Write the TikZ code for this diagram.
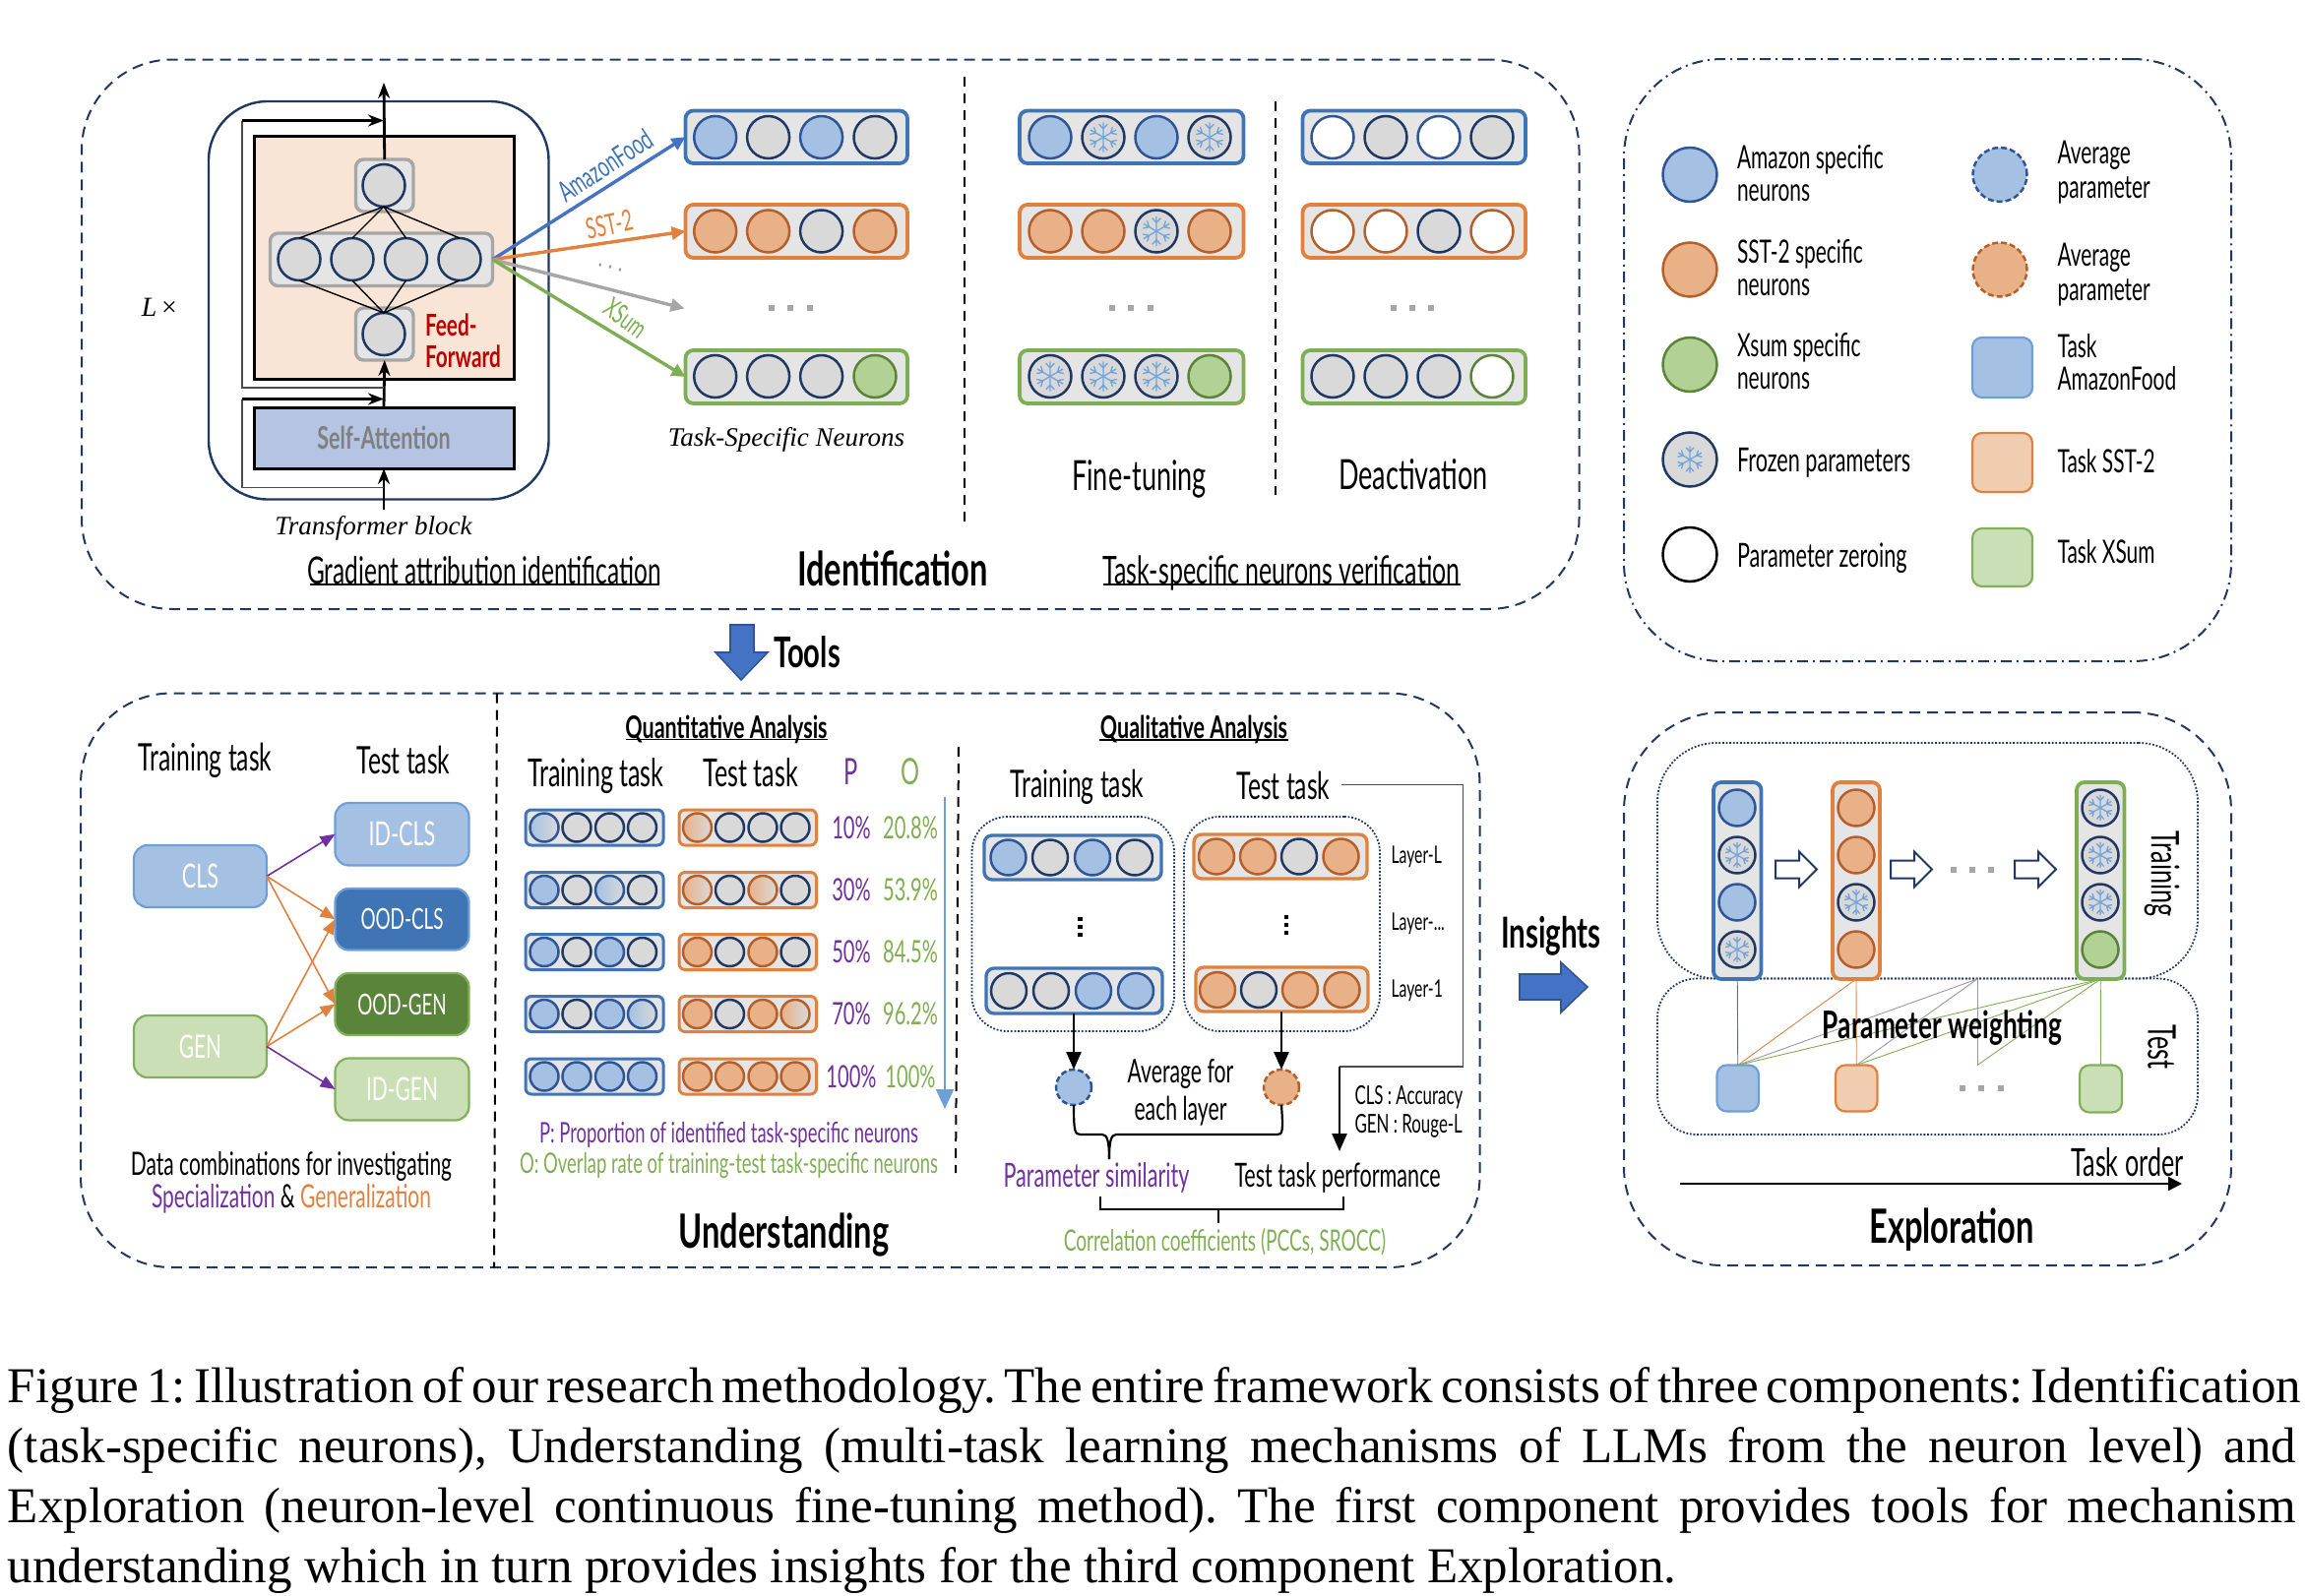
\documentclass[tikz,border=0pt]{standalone}
\usepackage{fontspec}
\usetikzlibrary{arrows.meta,calc,shapes.misc}
\setmainfont{Liberation Serif}
\newfontfamily\ag[FakeStretch=0.64,Scale=1.09,BoldFeatures={FakeStretch=0.68}]{Lato}
\newcommand\fs[1]{\fontsize{#1pt}{#1pt}\selectfont}
\definecolor{navy}{HTML}{1F3864}
\definecolor{fb}{HTML}{A4C1E3}\definecolor{eb}{HTML}{2F5597}
\definecolor{fo}{HTML}{E8B188}\definecolor{eo}{HTML}{B5602A}
\definecolor{fg}{HTML}{B2D195}\definecolor{eg}{HTML}{5B843B}
\definecolor{fgy}{HTML}{D9D9D9}
\definecolor{bb}{HTML}{3F74B5}\definecolor{bo}{HTML}{E0813F}\definecolor{bg}{HTML}{7DAE54}
\definecolor{tb}{HTML}{A4C1E3}\definecolor{tbe}{HTML}{6F9FD8}
\definecolor{to}{HTML}{F0CCB0}\definecolor{toe}{HTML}{E0813F}
\definecolor{tg}{HTML}{CBDFB6}\definecolor{tge}{HTML}{82B05A}
\definecolor{pur}{HTML}{7030A0}\definecolor{grn}{HTML}{7FAE53}\definecolor{org}{HTML}{E0813F}
\definecolor{snowc}{HTML}{6FA5DC}
\definecolor{ffill}{HTML}{F8E5D6}\definecolor{safill}{HTML}{B4C4E2}\definecolor{arblue}{HTML}{4472C4}
\newcounter{nc}\newcounter{tc}
\newcommand\nrn[4]{\def\nrad{#4}\stepcounter{nc}\node[#1,minimum size={#4*1pt}] (nr\arabic{nc}) at (#2,#3) {};}
\newcommand\nrow[3]{\foreach \xx/\ss in {#3}{\nrn{\ss}{\xx}{#2}{#1}}}
\newcommand\bx[6]{\node[#2,minimum width={(#5-#3)*0.5pt},minimum height={(#6-#4)*0.5pt}] (#1) at ({(#3+#5)/2},{(#4+#6)/2}) {};}
\newcommand\bxt[7]{\node[#2,minimum width={(#5-#3)*0.5pt},minimum height={(#6-#4)*0.5pt}] (#1) at ({(#3+#5)/2},{(#4+#6)/2}) {#7};}
\newcommand\tx[5][]{\stepcounter{tc}\node[lbl,font={\ag\fs{#2}},#1] (t\arabic{tc}) at (#3,#4) {#5};}
\newcommand\snowpic{\foreach \a in {30,90,...,330}{\draw[snowline,shift={(path picture bounding box.center)}] (0,0)--(\a:0.7*\nrad) (\a:0.4*\nrad)--++(\a+42:0.3*\nrad) (\a:0.4*\nrad)--++(\a-42:0.3*\nrad);}}
\newcommand\sqdots[2]{\foreach \qq in {#1}{\stepcounter{tc}\node[dotsq] (t\arabic{tc}) at (\qq,#2) {};}}
\newcommand\barrow[2]{\draw[navy,line width=1pt,fill=white,shift={(#1,#2)}] (0,-9)--(24,-9)--(24,-18)--(42,0)--(24,18)--(24,9)--(0,9)--cycle;}
\tikzset{
 lbl/.style={inner sep=0pt,outer sep=0pt,align=center},
 panel/.style={draw=navy,line width=1pt,dash pattern=on 5.5pt off 3.5pt,rounded corners=46pt},
 legpanel/.style={draw=navy,line width=1pt,dash pattern=on 5.5pt off 2.5pt on 1pt off 2.5pt,rounded corners=50pt},
 vdash/.style={draw=black,line width=1pt,dash pattern=on 5pt off 3.5pt},
 dotbox/.style={draw=navy,line width=.9pt,dash pattern=on .9pt off .9pt,inner sep=0,outer sep=0},
 nbase/.style={circle,inner sep=0,outer sep=0,line width=1.25pt},
 nb/.style={nbase,fill=fb,draw=eb},
 no/.style={nbase,fill=fo,draw=eo},
 ng/.style={nbase,fill=fg,draw=eg},
 ny/.style={nbase,fill=fgy,draw=navy},
 nw/.style={nbase,fill=white,draw=black},
 nwb/.style={nbase,fill=white,draw=eb},
 nwo/.style={nbase,fill=white,draw=eo},
 nwg/.style={nbase,fill=white,draw=eg},
 nf/.style={ny,path picture={\snowpic}},
 nbg/.style={nbase,left color=fb,right color=fgy,draw=eb},
 nog/.style={nbase,left color=fo,right color=fgy,draw=eo},
 nbd/.style={nb,dash pattern=on 3pt off 1.5pt},
 nod/.style={no,dash pattern=on 3pt off 1.5pt},
 snowline/.style={draw=snowc,line width=.65pt},
 barbase/.style={inner sep=0,outer sep=0,rounded corners=4pt,fill=black!10,line width=1.9pt},
 barb/.style={barbase,draw=bb},baro/.style={barbase,draw=bo},barg/.style={barbase,draw=bg},
 bary/.style={barbase,draw=black!35,line width=1.7pt},
 tbox/.style={inner sep=0,outer sep=0,rounded corners=5pt,line width=1.1pt},
 tbb/.style={tbox,fill=tb,draw=tbe},
 tbo/.style={tbox,fill=to,draw=toe},
 tbg/.style={tbox,fill=tg,draw=tge},
 dotsq/.style={rectangle,inner sep=0,outer sep=0,minimum size=3pt,fill=black!35},
 ann/.style={line width=1.7pt,-{Triangle[length=7pt,width=6.5pt]}},
 flow/.style={line width=1.4pt,draw=black,-{Stealth[length=8pt,width=6pt]}},
 tarr/.style={line width=.8pt,-{Triangle[length=7.5pt,width=6pt]}},
 blk/.style={line width=1.2pt,-{Triangle[length=9pt,width=7.5pt]}},
 thinl/.style={line width=.45pt},
 rect16/.style={rounded corners=7pt,text=white},
}
\begin{document}
\begin{tikzpicture}[x=0.5pt,y=-0.5pt]
\useasboundingbox (0,0) rectangle (2342,1622);
% ---------- panels
\bx{pid}{panel}{83}{60.5}{1604.5}{619}
\bx{pleg}{legpanel}{1650}{60}{2267}{672}
\bx{pund}{panel}{82}{704.5}{1503.5}{1288}
\bx{pexp}{panel,rounded corners=50pt}{1650}{724}{2267}{1286}
\coordinate (vd1a) at (980,78);\coordinate (vd1b) at (980,530);
\coordinate (vd2a) at (1296,103);\coordinate (vd2b) at (1296,503);
\coordinate (vd3a) at (505,704.5);\coordinate (vd3b) at (502,1288);
\coordinate (vd4a) at (974,759);\coordinate (vd4b) at (971,1192);
\draw[vdash] (vd1a)--(vd1b);\draw[vdash] (vd2a)--(vd2b);\draw[vdash] (vd3a)--(vd3b);\draw[vdash] (vd4a)--(vd4b);
% ---------- transformer
\bx{tfb}{draw=navy,line width=1.2pt,rounded corners=30pt,inner sep=0,outer sep=0}{212}{103}{557.5}{507.5}
\bx{ffb}{draw=black,fill=ffill,line width=1.5pt,inner sep=0,outer sep=0}{258}{138}{522}{385}
\bxt{sab}{draw=black,fill=safill,line width=1.5pt,inner sep=0,outer sep=0,text=black!50,font={\ag\bfseries\fs{14.5}}}{258}{414}{522}{476}{Self-Attention}
\bx{gtop}{bary}{361.5}{162}{420}{215}
\bx{gmid}{bary}{274.5}{237}{500.5}{290.5}
\bx{gbot}{bary}{361.5}{313}{420}{366}
\node[ny,minimum size=21.5pt] (top) at (390,188.5) {};
\node[ny,minimum size=21.5pt] (bot) at (390,339.5) {};
\node[ny,minimum size=21.5pt] (m1) at (304,263.5) {};
\node[ny,minimum size=21.5pt] (m2) at (358,263.5) {};
\node[ny,minimum size=21.5pt] (m3) at (412.5,263.5) {};
\node[ny,minimum size=21.5pt] (m4) at (467,263.5) {};
\foreach \m in {m1,m2,m3,m4}{\draw[black,line width=.7pt] (\m.north)--(top.south);\draw[black,line width=.7pt] (\m.south)--(bot.north);}
\coordinate (outT) at (390,84);\coordinate (inB) at (390,518);
\coordinate (skA) at (390,394);\coordinate (skAl) at (246,394);\coordinate (skAt) at (246,122.5);\coordinate (skAr) at (390,122.5);
\coordinate (skB) at (390,495.5);\coordinate (skBl) at (246,495.5);\coordinate (skBt) at (246,405.5);\coordinate (skBr) at (390,405.5);
\draw[flow] (gtop.north)--(outT);
\draw[flow] (inB)--(sab.south);
\draw[flow] (sab.north)--(gbot.south);
\draw[black!70,line width=.6pt] (skA)--(skAl)--(skAt);\draw[flow] (skAt)--(skAr);
\draw[black!70,line width=.6pt] (skB)--(skBl)--(skBt);\draw[flow] (skBt)--(skBr);
\tx[font={\fs{14}\itshape}]{14}{162}{312}{L\,{\upshape ×}}
\tx[text=red!75!black,anchor=west,font={\ag\bfseries\fs{14}}]{14}{432}{330}{Feed-}
\tx[text=red!75!black,anchor=west,font={\ag\bfseries\fs{14}}]{14}{432}{362.5}{Forward}
\tx[font={\fs{13.5}\itshape}]{13.5}{379.5}{536.5}{Transformer block}
\tx{17.5}{492}{580}{Gradient attribution identification}
\coordinate (ulA) at (315,594);\coordinate (ulB) at (670,594);\draw[line width=.7pt] (ulA)--(ulB);
\tx[font={\ag\bfseries\fs{22}}]{22}{907}{578}{Identification}
\tx{17.9}{1302}{582}{Task-specific neurons verification}
\coordinate (ulC) at (1121,594);\coordinate (ulD) at (1484,594);\draw[line width=.7pt] (ulC)--(ulD);
\tx{19.4}{1157.5}{487}{Fine-tuning}
\tx{19.4}{1436}{482}{Deactivation}
% ---------- neuron bars, first panel
\bx{a1}{barb}{696.5}{112.5}{922}{166}
\bx{a2}{baro}{696.5}{208}{922}{262}
\bx{a3}{barg}{696.5}{356}{922}{410}
\nrow{21.5}{139.5}{726.7/nb,780.6/ny,834.6/nb,889/ny}
\nrow{21.5}{235}{726.7/no,780.6/no,834.6/ny,889/no}
\nrow{21.5}{382.5}{726.7/ny,780.6/ny,834.6/ny,889/ng}
\sqdots{784,803,822.5}{312.5}
\bx{b1}{barb}{1036}{112.5}{1263.5}{166}
\bx{b2}{baro}{1036}{208}{1263.5}{262}
\bx{b3}{barg}{1036}{356}{1263.5}{410}
\nrow{21.5}{139.5}{1067/nb,1121/nf,1175/nb,1229/nf}
\nrow{21.5}{235}{1067/no,1121/no,1175/nf,1229/no}
\nrow{21.5}{382.5}{1067/nf,1121/nf,1175/nf,1229/ng}
\sqdots{1130,1149,1168.5}{312.5}
\bx{c1}{barb}{1323.5}{112.5}{1550}{166}
\bx{c2}{baro}{1323.5}{208}{1550}{262}
\bx{c3}{barg}{1323.5}{356}{1550}{410}
\nrow{21.5}{139.5}{1354/nwb,1408/ny,1462/nwb,1516/ny}
\nrow{21.5}{235}{1354/nwo,1408/nwo,1462/ny,1516/nwo}
\nrow{21.5}{382.5}{1354/ny,1408/ny,1462/ny,1516/nwg}
\sqdots{1416,1435,1454}{312.5}
\coordinate (grayend) at (695.5,313.5);
\draw[ann,draw=arblue] (gmid.east)--(a1.west);
\draw[ann,draw=bo] (gmid.east)--(a2.west);
\draw[ann,draw=black!35] (gmid.east)--(grayend);
\draw[ann,draw=bg] (gmid.east)--(a3.west);
\tx[rotate=33,text=bb]{13.5}{615}{168}{AmazonFood}
\tx[rotate=12,text=bo]{13.5}{619}{228}{SST-2}
\tx[rotate=-15,text=black!40]{13}{620}{272}{. . .}
\tx[rotate=-36,text=bg]{13}{636}{323}{XSum}
\tx[font={\fs{13.5}\itshape}]{13.5}{799}{447}{Task-Specific Neurons}
% ---------- Tools arrow
\draw[draw=eb,fill=arblue,line width=.8pt] (742,635)--(766,635)--(766,663)--(780,663)--(753,691)--(727,663)--(742,663)--cycle;
\tx[font={\ag\bfseries\fs{19.7}}]{19.7}{820}{663}{Tools}
% ---------- legend
\nrn{nb}{1717}{177.5}{27.5}\nrn{no}{1717}{274}{27.5}\nrn{ng}{1717}{370.5}{27.5}
\def\nrad{19.5}\node[nf,minimum size=27.5pt] (frz) at (1717,467) {};
\nrn{nw}{1717}{563.5}{27.5}
\nrn{nbd}{2032}{177.5}{27.5}\nrn{nod}{2032}{274}{27.5}
\bx{l1}{tbb}{2004}{343}{2065}{404}\bx{l2}{tbo}{2004}{440}{2065}{500}\bx{l3}{tbg}{2004}{537}{2065}{596}
\tx[anchor=west]{15}{1765}{162}{Amazon specific}
\tx[anchor=west]{15}{1765}{196.5}{neurons}
\tx[anchor=west]{15}{1765}{258}{SST-2 specific}
\tx[anchor=west]{15}{1765}{292.5}{neurons}
\tx[anchor=west]{15}{1765}{353}{Xsum specific}
\tx[anchor=west]{15}{1765}{387.5}{neurons}
\tx[anchor=west]{15.5}{1765}{470}{Frozen parameters}
\tx[anchor=west]{15.5}{1765}{567.5}{Parameter zeroing}
\tx[anchor=west]{15}{2090.5}{157.5}{Average}
\tx[anchor=west]{15}{2090.5}{193}{parameter}
\tx[anchor=west]{15}{2090.5}{262}{Average}
\tx[anchor=west]{15}{2090.5}{297}{parameter}
\tx[anchor=west]{15}{2090.5}{352}{Task}
\tx[anchor=west]{15}{2090.5}{385}{AmazonFood}
\tx[anchor=west]{15}{2090.5}{468.5}{Task SST-2}
\tx[anchor=west]{15}{2090.5}{561}{Task XSum}
% ---------- understanding left
\tx{17.7}{208.5}{773}{Training task}
\tx{17.7}{410}{772}{Test task}
\bxt{cls}{tbb,rect16,font={\ag\fs{15.5}}}{136}{859}{271}{922}{CLS}
\bxt{gen}{tbg,rect16,font={\ag\fs{15}}}{136}{1032}{271}{1095}{GEN}
\bxt{idc}{tbb,rect16,font={\ag\fs{15.5}}}{340.5}{816}{476.5}{879.5}{ID-CLS}
\bxt{ooc}{tbox,rect16,fill=bb,draw=tbe,font={\ag\fs{13.5}}}{340.5}{903}{476.5}{965.5}{OOD-CLS}
\bxt{oog}{tbox,rect16,fill=eg,draw=tge,font={\ag\fs{13.5}}}{340.5}{989}{476.5}{1052}{OOD-GEN}
\bxt{idg}{tbg,rect16,font={\ag\fs{15}}}{340.5}{1075.5}{476.5}{1138.5}{ID-GEN}
\draw[tarr,draw=pur] (cls.east)--(idc.west);
\draw[tarr,draw=org] (cls.east)--(ooc.west);
\draw[tarr,draw=org] (cls.east)--(oog.west);
\draw[tarr,draw=org] (gen.east)--(ooc.west);
\draw[tarr,draw=org] (gen.east)--(oog.west);
\draw[tarr,draw=pur] (gen.east)--(idg.west);
\tx{15}{296}{1185.5}{Data combinations for investigating}
\tx{15}{296}{1218.5}{\textcolor{pur}{Specialization} \& \textcolor{org}{Generalization}}
% ---------- quantitative
\tx[font={\ag\bfseries\fs{14.5}}]{14.5}{738}{741}{Quantitative Analysis}
\coordinate (ulE) at (636,751.5);\coordinate (ulF) at (840.5,751.5);\draw[line width=.7pt] (ulE)--(ulF);
\tx{18}{605.5}{788.5}{Training task}
\tx{18}{762.5}{785}{Test task}
\tx[text=pur]{17}{864.5}{784}{P}
\tx[text=grn]{17}{924.5}{784}{O}
\foreach \yy/\bA/\bB/\bC/\bD/\oA/\oB/\oC/\oD/\pp/\qq in {
 841/nbg/ny/ny/ny/nog/ny/ny/ny/10\%/20.8\%,
 904.5/nb/ny/nbg/ny/nog/ny/nog/ny/30\%/53.9\%,
 967.5/nb/ny/nb/ny/no/ny/no/ny/50\%/84.5\%,
 1030.5/nb/ny/nb/nbg/no/ny/no/nog/70\%/96.2\%,
 1094/nb/nb/nb/nb/no/no/no/no/100\%/100\%}{
 \bx{qb\yy}{barb,rounded corners=3pt,line width=1.5pt}{534}{(\yy-18)}{674}{(\yy+18)}
 \bx{qo\yy}{baro,rounded corners=3pt,line width=1.5pt}{690}{(\yy-18)}{829.5}{(\yy+18)}
 \nrow{14.5}{\yy}{553/\bA,586/\bB,619.5/\bC,652.5/\bD,708.5/\oA,741.5/\oB,775/\oC,808/\oD}
 \tx[text=pur]{14.4}{865}{\yy}{\pp}
 \tx[text=grn]{14.4}{925}{\yy}{\qq}
}
\coordinate (pqA) at (960,810);\coordinate (pqB) at (960,1127);
\draw[draw=tbe,line width=1pt,-{Triangle[length=10pt,width=9pt]}] (pqA)--(pqB);
\tx[text=pur]{13.2}{740.5}{1153.5}{P: Proportion of identified task-specific neurons}
\tx[text=grn]{13.2}{740.5}{1184.5}{O: Overlap rate of training-test task-specific neurons}
\tx[font={\ag\bfseries\fs{22}}]{22}{796.5}{1255}{Understanding}
% ---------- qualitative
\tx[font={\ag\bfseries\fs{14.5}}]{14.5}{1213}{741}{Qualitative Analysis}
\coordinate (ulG) at (1117,752);\coordinate (ulH) at (1309,752);\draw[line width=.7pt] (ulG)--(ulH);
\tx{17.7}{1094.5}{799.5}{Training task}
\tx{17.7}{1304}{798}{Test task}
\bx{dl}{dotbox,rounded corners=18pt}{987.5}{830}{1193}{1048}
\bx{dr}{dotbox,rounded corners=18pt}{1203}{830}{1402}{1048}
\bx{ql1}{barb,line width=1.7pt}{1000}{849}{1180}{894}
\bx{ql2}{barb,line width=1.7pt}{1002}{984}{1181}{1030}
\bx{qr1}{baro,line width=1.7pt}{1213}{848}{1389}{893}
\bx{qr2}{baro,line width=1.7pt}{1215}{983}{1390}{1028}
\nrow{18}{871.5}{1024.5/nb,1067/ny,1110/nb,1153/ny}
\nrow{18}{1007}{1025/ny,1068/ny,1111/nb,1154/nb}
\nrow{18}{870.5}{1236/no,1278/no,1320/ny,1362.5/no}
\nrow{18}{1006}{1237/no,1279/ny,1321/no,1363.5/no}
\foreach \qq in {934,942,950}{\stepcounter{tc}\node[dotsq,fill=black,minimum size=2.4pt] (t\arabic{tc}) at (1097.5,\qq) {};}
\foreach \qq in {932,940,948}{\stepcounter{tc}\node[dotsq,fill=black,minimum size=2.4pt] (t\arabic{tc}) at (1307,\qq) {};}
\tx[anchor=west]{11.3}{1413.5}{871}{Layer-L}
\tx[anchor=west]{11.3}{1413.5}{939}{Layer-...}
\tx[anchor=west]{11.3}{1413.5}{1007}{Layer-1}
\node[nbd,minimum size=18pt] (avgL) at (1091,1105) {};
\node[nod,minimum size=18pt] (avgR) at (1302,1105) {};
\draw[blk] (ql2.south -| avgL)--(avgL.north);
\draw[blk] (qr2.south -| avgR)--(avgR.north);
\tx{15.2}{1199.5}{1091}{Average for}
\tx{15.2}{1199.5}{1129}{each layer}
\coordinate (brT) at (1127,1178);
\draw[black,line width=1.1pt] (avgL.south) .. controls (1091,1150) and (1092,1153) .. (1098,1153) -- (1120,1153) .. controls (1125,1153) and (1127,1160) .. (brT);
\draw[black,line width=1.1pt] (avgR.south) .. controls (1304,1150) and (1303,1153) .. (1298,1153) -- (1134,1153) .. controls (1129,1153) and (1127,1160) .. (brT);
\tx[text=pur]{15.5}{1114}{1196.5}{Parameter similarity}
\tx{15.5}{1359}{1196.5}{Test task performance}
\coordinate (bA) at (1118,1215.5);\coordinate (bB) at (1118,1229);\coordinate (bC) at (1365,1229);\coordinate (bD) at (1365,1215.5);\coordinate (bE) at (1238,1229);\coordinate (bF) at (1238,1242.5);
\draw[black,line width=1.1pt] (bA)--(bB)--(bC)--(bD) (bE)--(bF);
\tx[text=grn]{13.7}{1244.5}{1262.5}{Correlation coefficients (PCCs, SROCC)}
\coordinate (pfA) at (1362.5,797.5);\coordinate (pfB) at (1486.5,797.5);\coordinate (pfC) at (1486.5,1084);\coordinate (pfD) at (1361,1084);\coordinate (pfE) at (1361,1170);
\draw[black!70,line width=.7pt] (pfA)--(pfB)--(pfC)--(pfD);
\draw[blk] (pfD)--(pfE);
\tx[anchor=west]{12.1}{1376.5}{1115}{CLS : Accuracy}
\tx[anchor=west]{12.1}{1376.5}{1144.5}{GEN : Rouge-L}
% ---------- Insights
\tx[font={\ag\bfseries\fs{19.9}}]{19.9}{1576}{951}{Insights}
\draw[draw=eb,fill=arblue,line width=.8pt] (1544,990)--(1586,990)--(1586,978)--(1613,1003)--(1586,1029)--(1586,1016)--(1544,1016)--cycle;
% ---------- exploration
\bx{trb}{dotbox,rounded corners=30pt}{1684}{755}{2233}{994.5}
\bx{teb}{dotbox,rounded corners=20pt}{1684}{994.5}{2233}{1153}
\bx{e1}{barb}{1741}{795}{1789.5}{995}
\bx{e2}{baro}{1862}{795}{1910}{995}
\bx{e3}{barg}{2110}{795}{2158.5}{995}
\foreach \xx/\sA/\sB/\sC/\sD in {1765/nb/nf/nb/nf,1886/no/no/nf/no,2134/nf/nf/nf/ng}{
 \nrn{\sA}{\xx}{821}{18.5}\nrn{\sB}{\xx}{869}{18.5}\nrn{\sC}{\xx}{917}{18.5}\nrn{\sD}{\xx}{965}{18.5}}
\barrow{1804}{883.5}\barrow{1921}{883.5}\barrow{2047}{883.5}
\sqdots{1984.5,2004,2023}{883.5}
\bx{s1}{tbb}{1744.5}{1082.5}{1787}{1129.5}
\bx{s2}{tbo}{1865}{1082.5}{1907.5}{1129.5}
\bx{s3}{tbg}{2113}{1082.5}{2156}{1130.5}
\sqdots{1994,2013,2032.5}{1106}
\coordinate (gt) at (2009,995);\coordinate (gb) at (2009,1082.5);
\draw[thinl,draw=bb] (e1.south)--(s1.north);
\draw[thinl,draw=bo] (e2.south)--(s1.north);
\draw[thinl,draw=bo] (e2.south)--(s2.north);
\draw[thinl,draw=black!40] (gt)--(s1.north);
\draw[thinl,draw=black!40] (gt)--(s2.north);
\draw[thinl,draw=black!40] (gt)--(gb);
\draw[thinl,draw=bg] (e3.south)--(s1.north);
\draw[thinl,draw=bg] (e3.south)--(s2.north);
\draw[thinl,draw=bg] (e3.south)--(gb);
\draw[thinl,draw=bg] (e3.south)--(s3.north);
\tx[font={\ag\bfseries\fs{17.7}}]{17.7}{1973.5}{1045}{Parameter weighting}
\tx[rotate=-90]{18}{2196.5}{888}{Training}
\tx[rotate=-90]{18}{2196.5}{1064}{Test}
\tx{18}{2161.5}{1181.5}{Task order}
\coordinate (toA) at (1707,1203);\coordinate (toB) at (2217,1203);
\draw[line width=1.1pt,-{Triangle[length=7pt,width=7pt]}] (toA)--(toB);
\tx[font={\ag\bfseries\fs{22}}]{22}{1983}{1249.5}{Exploration}
% ---------- caption
\tikzset{capline/.style={inner sep=0,outer sep=0,anchor=base west,font={\fs{25.5}\frenchspacing\spaceskip=0.16em plus 1em\relax}}}
\node[capline] (cap1) at (8,1425) {\makebox[1162.5pt][s]{Figure 1: Illustration of our research methodology. The entire framework consists of three components: Identification}};
\node[capline] (cap2) at (8,1486) {\makebox[1162.5pt][s]{(task-specific neurons), Understanding (multi-task learning mechanisms of LLMs from the neuron level) and}};
\node[capline] (cap3) at (8,1547) {\makebox[1162.5pt][s]{Exploration (neuron-level continuous fine-tuning method). The first component provides tools for mechanism}};
\node[capline,font={\fs{25.5}}] (cap4) at (8,1608) {understanding which in turn provides insights for the third component Exploration.};
\end{tikzpicture}
\end{document}
